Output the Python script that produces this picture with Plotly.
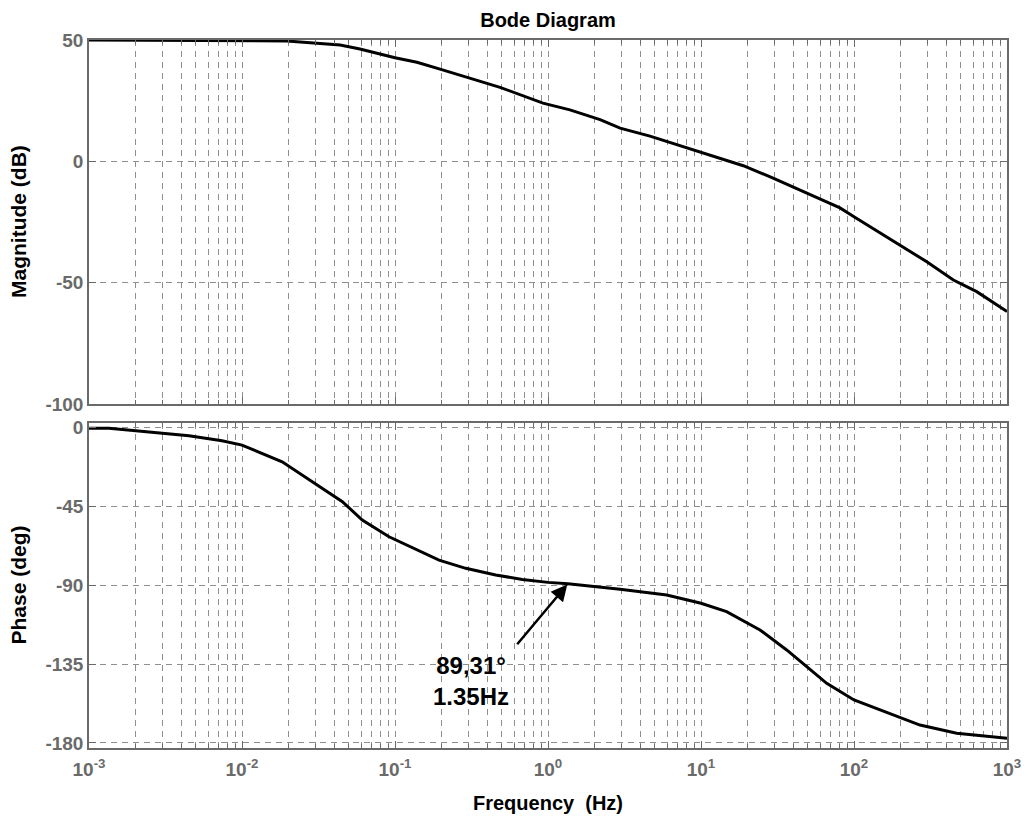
import numpy as np
import plotly.graph_objects as go

# ---- data ----
freq_mag = [0.001, 0.0196, 0.0438, 0.059, 0.1, 0.139, 0.197, 0.294, 0.486, 0.927, 1.39, 2.19, 2.96,
            4.64, 9.85, 18.9, 29.6, 44.4, 81, 100, 200, 299, 446, 634, 1000]
mag_db = [50, 49.6, 47.9, 46.3, 42.7, 40.8, 38.0, 34.8, 30.5, 24.0, 21.2, 17.2, 13.7,
          10.4, 4.0, -1.8, -6.9, -11.8, -19.2, -22.8, -34.5, -41.4, -48.9, -53.7, -61.9]

freq_phase = [0.001, 0.00135, 0.00202, 0.0045, 0.0074, 0.01, 0.0183, 0.030, 0.0453, 0.0611, 0.0914,
              0.194, 0.29, 0.455, 0.679, 1.0, 1.35, 2.96, 5.97, 10, 14.7, 24.3, 36.3, 49.1, 66.3,
              100, 148, 270, 469, 1000]
phase_deg = [-0.7, -0.7, -2.1, -5.0, -7.8, -10.3, -19.8, -32.1, -42.5, -53.0, -62.5,
             -75.8, -80.5, -84.3, -86.8, -88.5, -89.31, -92.4, -95.7, -100.4, -105.2, -115.6, -127, -136.5, -146,
             -155.5, -161.2, -169.8, -174.5, -177.3]

mark_freq = 1.35
mark_phase = -89.31
mark_text = "89,31°<br>1.35Hz"

x_major = [0.001, 0.01, 0.1, 1, 10, 100, 1000]
x_major_text = ["10<sup>-3</sup>", "10<sup>-2</sup>", "10<sup>-1</sup>", "10<sup>0</sup>",
                "10<sup>1</sup>", "10<sup>2</sup>", "10<sup>3</sup>"]
mag_ticks = [-100, -50, 0, 50]
mag_tick_text = ["-100", "-50", "0", "50"]
phase_ticks = [-180, -135, -90, -45, 0]
phase_tick_text = ["-180", "-135", "-90", "-45", "0"]

x_minor = [k * 10.0 ** d for d in range(-3, 3) for k in range(2, 10)]

# ---- styling ----
FONT = "Liberation Sans, Arial, sans-serif"
GRID = "#8f8f8f"
AXC = "#6a6a6a"
TICKFONT = dict(family=FONT, size=19, color="#6a6a6a", weight="bold")

fig = go.Figure()
fig.add_trace(go.Scatter(x=freq_mag, y=mag_db, mode="lines",
                         line=dict(color="black", width=3), xaxis="x", yaxis="y",
                         showlegend=False, hoverinfo="skip"))
fig.add_trace(go.Scatter(x=freq_phase, y=phase_deg, mode="lines",
                         line=dict(color="black", width=3), xaxis="x2", yaxis="y2",
                         showlegend=False, hoverinfo="skip"))

common_x = dict(type="log", range=[-3, 3], showline=True, linecolor=AXC, linewidth=1.5,
                mirror="ticks", ticks="inside", ticklen=7, tickcolor=AXC,
                tickvals=x_major, ticktext=x_major_text, tickfont=TICKFONT,
                showgrid=True, gridcolor=GRID, griddash="6px,5px", gridwidth=1,
                minor=dict(tickvals=x_minor, showgrid=True, gridcolor=GRID, griddash="6px,5px",
                           gridwidth=1, ticks="inside", ticklen=4, tickcolor=AXC),
                zeroline=False, fixedrange=True)
common_y = dict(showline=True, linecolor=AXC, linewidth=1.5, mirror="ticks", ticks="inside",
                ticklen=7, tickcolor=AXC, tickfont=TICKFONT, showgrid=True, gridcolor=GRID,
                griddash="6px,5px", gridwidth=1, zeroline=False, fixedrange=True)

fig.update_layout(
    width=1025, height=820,
    paper_bgcolor="white", plot_bgcolor="white",
    margin=dict(l=89, r=18, t=40, b=72, autoexpand=False),
    xaxis=dict(common_x, anchor="y", showticklabels=False, matches="x2"),
    yaxis=dict(common_y, domain=[0.4859, 1.0], range=[-100, 50], tickvals=mag_ticks,
               ticktext=mag_tick_text),
    xaxis2=dict(common_x, anchor="y2", ticklabelstandoff=3),
    yaxis2=dict(common_y, domain=[0.0, 0.459], range=[-182.85, 2.28], tickvals=phase_ticks,
                ticktext=phase_tick_text),
    title=dict(text="Bode Diagram", x=0.5, xref="paper", xanchor="center",
               y=1 - 20 / 820, yanchor="middle",
               font=dict(family=FONT, size=20, color="black", weight="bold")),
)

label_font = dict(family=FONT, size=21, color="black", weight="bold")
fig.add_annotation(text="Magnitude (dB)", xref="paper", yref="paper", x=0, y=(0.4859 + 1.0) / 2,
                   xanchor="center", yanchor="middle", xshift=-70, textangle=-90,
                   showarrow=False, font=label_font)
fig.add_annotation(text="Phase (deg)", xref="paper", yref="paper", x=0, y=0.459 / 2,
                   xanchor="center", yanchor="middle", xshift=-70, textangle=-90,
                   showarrow=False, font=label_font)
fig.add_annotation(text="Frequency \u00a0(Hz)", xref="paper", yref="paper", x=0.5, y=0,
                   xanchor="center", yanchor="middle", yshift=-55,
                   showarrow=False, font=dict(family=FONT, size=20, color="black", weight="bold"))

# arrow to marked point
fig.add_annotation(x=np.log10(mark_freq), y=mark_phase, xref="x2", yref="y2", text="",
                   showarrow=True, arrowhead=2, arrowsize=1.3, arrowwidth=2.5, arrowcolor="black",
                   ax=-52, ay=62, standoff=1)
fig.add_annotation(x=np.log10(mark_freq), y=mark_phase, xref="x2", yref="y2", text=mark_text,
                   showarrow=False, xshift=-97, yshift=-97, align="center",
                   font=dict(family=FONT, size=24, color="black", weight="bold"))

fig.write_html("out.html", config={"displayModeBar": False},
               post_script="document.body.style.margin='0';")
